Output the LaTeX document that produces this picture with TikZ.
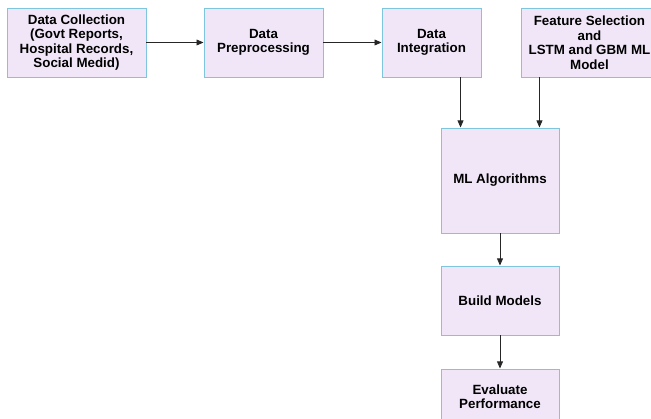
\documentclass[tikz,border=0pt]{standalone}
\usepackage{fontspec}
\setmainfont{Liberation Sans}
\usetikzlibrary{arrows.meta}
\definecolor{boxfill}{HTML}{F1E6F8}
\definecolor{boxline}{HTML}{7EC6DE}

\begin{document}
\begin{tikzpicture}[
            every node/.style={draw=boxline, fill=boxfill, line width=0.8pt, align=center,
                font=\fontsize{11.4}{12.4}\selectfont\bfseries, inner sep=2pt},
            wide/.style={minimum width=4.17cm, minimum height=2.07cm},
            arr/.style={-{Triangle[length=6pt, width=5pt]}, line width=0.7pt, black!85}]
        \clip (0,0) rectangle (19.53,-12.57);
        \node[wide] (collect) at (2.295,-1.275) {Data Collection\\(Govt Reports,\\Hospital Records,\\Social Medid)};
        \node[minimum width=3.57cm, minimum height=2.07cm] (prep) at (7.905,-1.275) {Data\\Preprocessing};
        \node[minimum width=2.97cm, minimum height=2.07cm] (integ) at (12.945,-1.275) {Data\\Integration};
        \node[minimum width=4.11cm, minimum height=2.07cm] (feat) at (17.685,-1.275) {Feature Selection\\and\\LSTM and GBM ML\\Model};
        \node[minimum width=3.54cm, minimum height=3.15cm] (algo) at (15.0,-5.415) {ML Algorithms};
        \node[minimum width=3.54cm, minimum height=2.07cm] (build) at (15.0,-9.015) {Build Models};
        \node[minimum width=3.54cm, minimum height=1.65cm] (eval) at (15.0,-11.895) {Evaluate\\Performance};
        \coordinate (inleft) at ([xshift=0.6cm]algo.north west);
        \coordinate (inright) at ([xshift=-0.6cm]algo.north east);
        \draw[arr] (collect) -- (prep);
        \draw[arr] (prep) -- (integ);
        \draw[arr] (integ.south -| inleft) -- (inleft);
        \draw[arr] (feat.south -| inright) -- (inright);
        \draw[arr] (algo) -- (build);
        \draw[arr] (build) -- (eval);
\end{tikzpicture}
\end{document}
